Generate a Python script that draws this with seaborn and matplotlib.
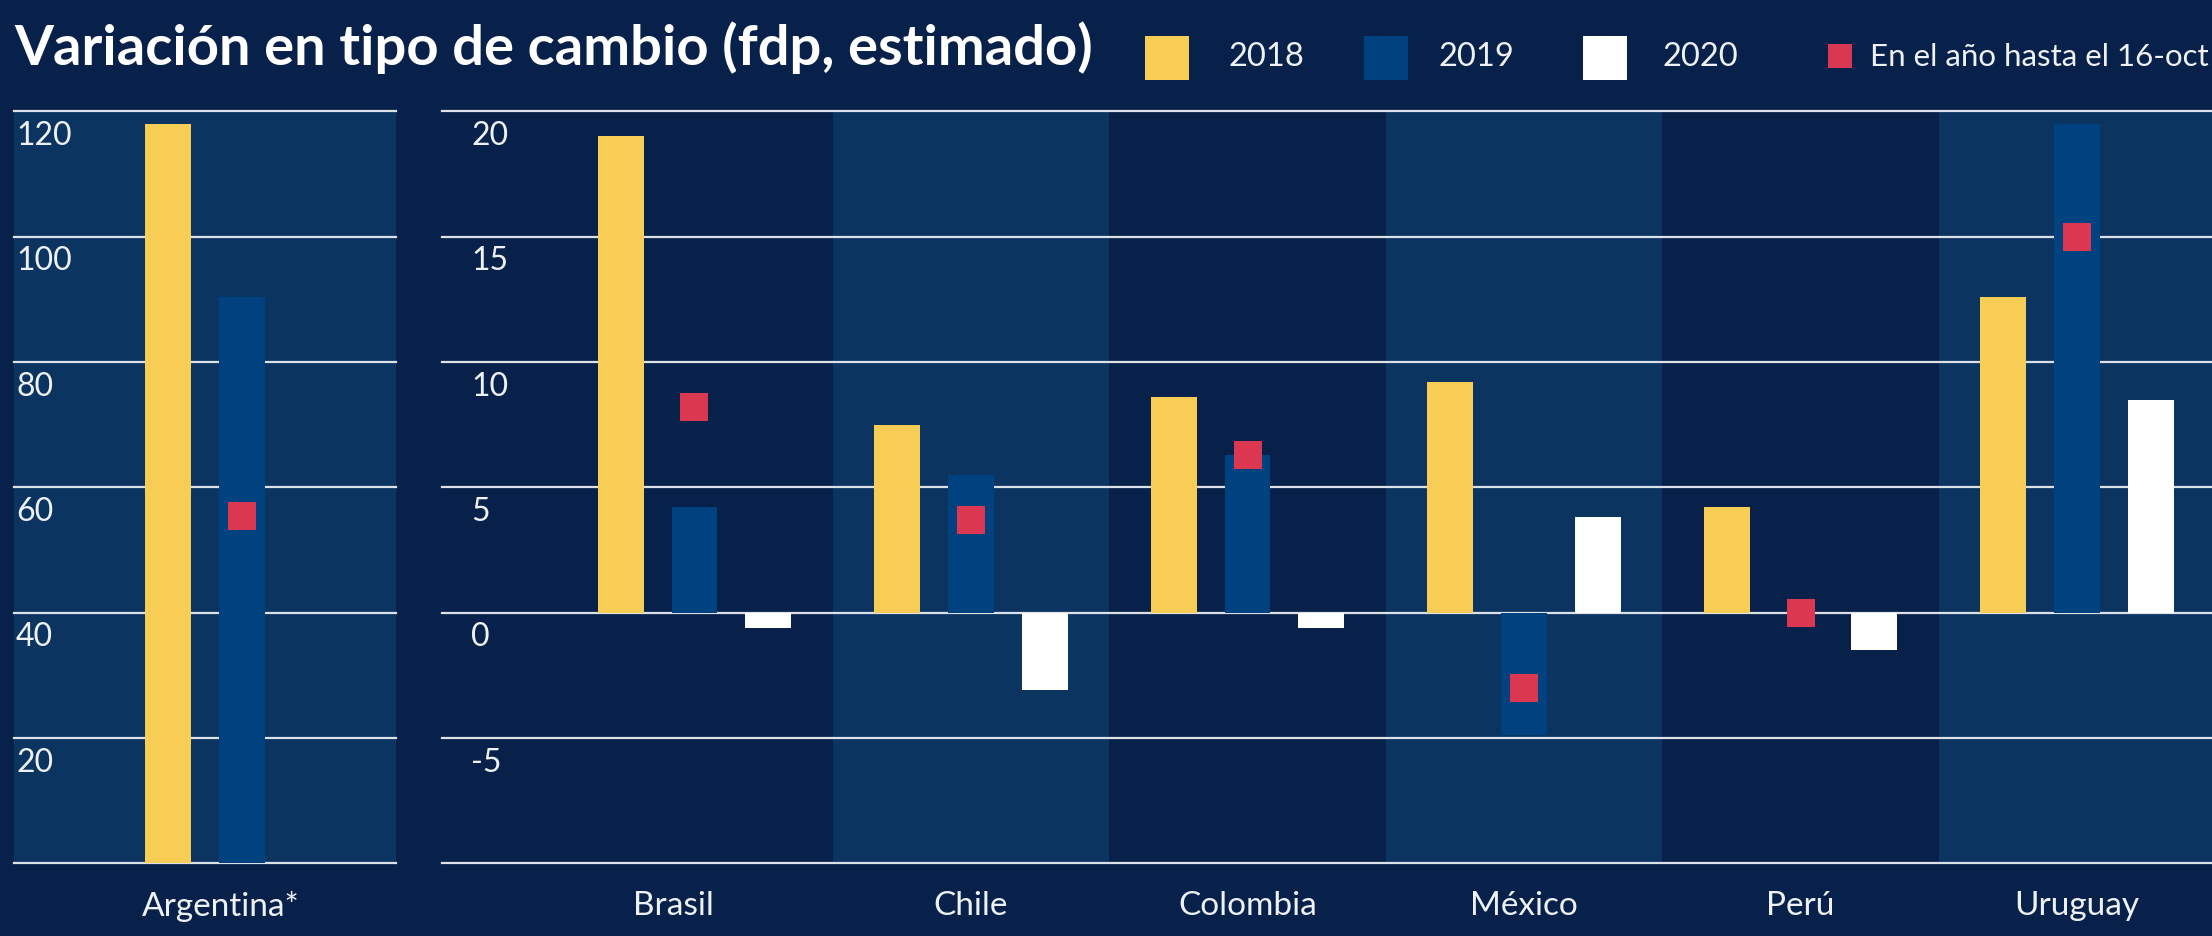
import numpy as np
import pandas as pd
import matplotlib
matplotlib.use('Agg')
import matplotlib.pyplot as plt
from matplotlib.patches import Rectangle
from matplotlib.transforms import ScaledTranslation
import seaborn as sns

# datos (variación % estimada)
paises = ['Brasil', 'Chile', 'Colombia', 'México', 'Perú', 'Uruguay']
anios = ['2018', '2019', '2020']
var_2018 = [19.0, 7.5, 8.6, 9.2, 4.2, 12.6]
var_2019 = [4.2, 5.5, 6.3, -4.9, 0.0, 19.5]
var_2020 = [-0.6, -3.1, -0.6, 3.8, -1.5, 8.5]
hasta_16oct = [8.2, 3.7, 6.3, -3.0, 0.0, 15.0]

arg_nombre = ['Argentina*']
arg_2018 = [118.0]
arg_2019 = [90.3]
arg_2020 = [np.nan]
arg_hasta_16oct = [55.5]

ticks_arg = [20, 40, 60, 80, 100, 120]
ticks_resto = [-5, 0, 5, 10, 15, 20]
grid_arg = [0, 20, 40, 60, 80, 100, 120]
grid_resto = [-10, -5, 0, 5, 10, 15, 20]

leyenda_ytd = 'En el año hasta el 16-oct'
titulo = 'Variación en tipo de cambio (fdp, estimado)'

BG = '#08214a'
BAND = '#0b3461'
YEL = '#f8cd55'
BLU = '#00427f'
WHT = '#ffffff'
RED = '#db3750'
GRID = '#dce1e8'
TXT = '#eef1f5'
paleta = {'2018': YEL, '2019': BLU, '2020': WHT}


def to_long(nombres, a, b, c):
    n = len(nombres)
    return pd.DataFrame({
        'pais': nombres * 3,
        'anio': ['2018'] * n + ['2019'] * n + ['2020'] * n,
        'valor': list(a) + list(b) + list(c),
    })


df_arg = to_long(arg_nombre, arg_2018, arg_2019, arg_2020)
df_resto = to_long(paises, var_2018, var_2019, var_2020)
pt_arg = pd.DataFrame({'pais': arg_nombre, 'valor': arg_hasta_16oct})
pt_resto = pd.DataFrame({'pais': paises, 'valor': hasta_16oct})

sns.set_style({'axes.facecolor': BG, 'figure.facecolor': BG})
plt.rcParams['font.family'] = ['Lato', 'DejaVu Sans']
plt.rcParams['font.weight'] = 'normal'

W, H = 2212, 936
fig = plt.figure(figsize=(W / 100, H / 100), dpi=100)
fig.patch.set_facecolor(BG)
top, bot = 111.4, 863.3
ax_l = fig.add_axes([14 / W, 1 - bot / H, 382 / W, (bot - top) / H])
ax_r = fig.add_axes([442 / W, 1 - bot / H, (W - 442) / W, (bot - top) / H])

ax_l.set_facecolor(BAND)
ax_r.set_facecolor(BG)
for i in range(1, len(paises), 2):
    ax_r.axvspan(i - 0.5, i + 0.5, color=BAND, lw=0, zorder=0)

for ax, df, pt, order in [(ax_l, df_arg, pt_arg, arg_nombre),
                          (ax_r, df_resto, pt_resto, paises)]:
    sns.barplot(data=df, x='pais', y='valor', hue='anio', order=order,
                hue_order=anios, palette=paleta, errorbar=None, gap=0.38,
                saturation=1, linewidth=0, legend=False, ax=ax, zorder=2)
    sns.stripplot(data=pt, x='pais', y='valor', order=order, jitter=False,
                  marker='s', size=20.5, color=RED, linewidth=0, ax=ax, zorder=4)

ax_l.set_xlim(-0.825, 0.557)
ax_l.set_ylim(0, 120)
ax_r.set_xlim(-0.913, 5.488)
ax_r.set_ylim(-10, 20)

for ax, grid, ticks, dx in [(ax_l, grid_arg, ticks_arg, 1.5),
                            (ax_r, grid_resto, ticks_resto, 21)]:
    for v in grid:
        ax.axhline(v, color=GRID, lw=1.6, zorder=1, clip_on=False)
    for v in ticks:
        ax.annotate(str(v), xy=(0, v), xycoords=ax.get_yaxis_transform(),
                    xytext=(dx, -7), textcoords='offset points',
                    ha='left', va='top', fontsize=23, color=TXT, zorder=5)
    ax.set_yticks([])
    ax.set_xlabel('')
    ax.set_ylabel('')
    ax.tick_params(axis='x', length=0, pad=20, labelsize=24, labelcolor=TXT)
    for s in ax.spines.values():
        s.set_visible(False)

# las etiquetas de Argentina y Brasil van un poco a la izquierda
for ax in [ax_l, ax_r]:
    lbl = ax.get_xticklabels()[0]
    lbl.set_transform(lbl.get_transform() + ScaledTranslation(-0.21, 0, fig.dpi_scale_trans))

# titulo, ajustado al ancho del original
t = fig.text(14 / W, 1 - 65 / H, titulo, fontsize=38, fontweight='bold',
             color='white', va='baseline', ha='left')
fig.canvas.draw()
ancho = t.get_window_extent().width
t.set_fontsize(38 * 1079 / ancho)

# leyenda manual
px = lambda x, y: (x / W, 1 - y / H)
for a, x0, xt in zip(anios, [1145, 1364, 1583], [1229, 1439, 1662]):
    fig.add_artist(Rectangle(px(x0, 80), 44 / W, 44 / H, facecolor=paleta[a],
                             lw=0, transform=fig.transFigure))
    fig.text(*px(xt, 57), a, fontsize=23.5, color=TXT, va='center', ha='left')
fig.add_artist(Rectangle(px(1828, 68), 24 / W, 24 / H, facecolor=RED,
                         lw=0, transform=fig.transFigure))
fig.text(*px(1870, 57), leyenda_ytd, fontsize=22.5, color=TXT, va='center', ha='left')

fig.savefig('out.png', dpi=100, facecolor=BG)
